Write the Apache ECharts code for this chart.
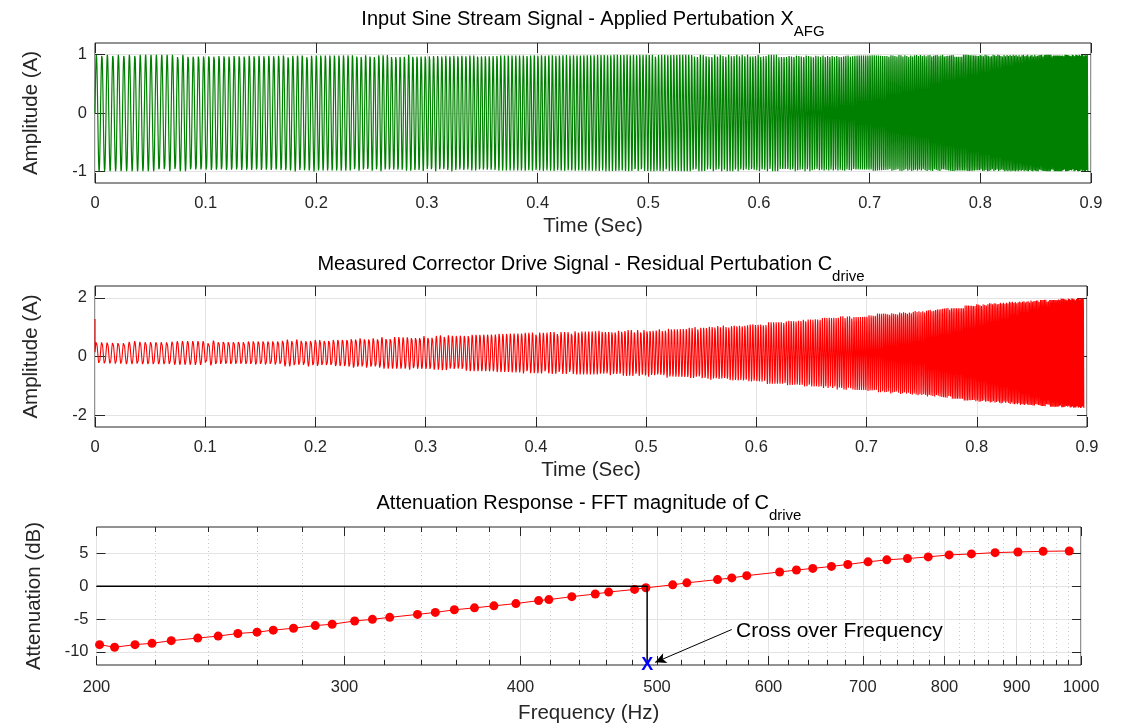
<!DOCTYPE html>
<html>
<head>
<meta charset="utf-8">
<title>Sine stream attenuation</title>
<script src="https://cdn.jsdelivr.net/npm/echarts@6/dist/echarts.min.js"></script>
<style>
  html, body { margin: 0; padding: 0; background: #ffffff; }
  #chart { width: 1127px; height: 727px; }
</style>
</head>
<body>
<div id="chart"></div>
<script>
// ---- Data -----------------------------------------------------------------
// Sine-stream step frequencies (Hz), one per measured point
const streamFreqHz = [201, 206, 213, 219, 226, 236, 244, 252, 260, 267,
  276, 286, 294, 305, 314, 323, 338, 348, 359, 371,
  383, 397, 412, 419, 435, 452, 462, 482, 491, 513,
  525, 552, 565, 579, 611, 628, 645, 665, 683, 706,
  728, 753, 779, 806, 836, 869, 902, 940, 981];

// FFT magnitude of the corrector drive at each step (dB)
const attenuationDb = [-8.9, -9.3, -8.9, -8.7, -8.3, -7.9, -7.6, -7.2, -7.0, -6.7,
  -6.4, -6.0, -5.8, -5.3, -5.05, -4.75, -4.3, -4.0, -3.6, -3.3,
  -3.0, -2.65, -2.2, -2.05, -1.6, -1.2, -0.9, -0.5, -0.25, 0.2,
  0.5, 1.0, 1.25, 1.6, 2.15, 2.45, 2.7, 3.0, 3.3, 3.7,
  4.0, 4.2, 4.45, 4.75, 4.9, 5.1, 5.2, 5.3, 5.35];

// Peak amplitude of the measured drive during each step (A)
const driveAmpA = [0.38, 0.40, 0.41, 0.43, 0.44, 0.46, 0.48, 0.52, 0.55, 0.58,
  0.61, 0.64, 0.67, 0.70, 0.72, 0.74, 0.76, 0.78, 0.81, 0.85,
  0.88, 0.93, 0.97, 1.00, 1.06, 1.10, 1.15, 1.20, 1.25, 1.30,
  1.34, 1.38, 1.42, 1.46, 1.50, 1.54, 1.58, 1.63, 1.67, 1.70,
  1.72, 1.75, 1.77, 1.79, 1.81, 1.83, 1.85, 1.86, 1.87];

const driveOffsetA = 0.12;   // DC level of the drive signal (A)
const driveStartA = 1.28;    // first drive sample (start-up transient, A)
const inputAmpA = 1;         // applied perturbation amplitude (A)
const streamEndSec = 0.897;  // length of the recorded stream (s)
const sampleRateHz = 20000;

const crossoverHz = 492;     // frequency where attenuation crosses 0 dB
const crossoverDb = 0;
const attenFloorDb = -12;

// Tick values and labels
const timeTicks = [0, 0.1, 0.2, 0.3, 0.4, 0.5, 0.6, 0.7, 0.8, 0.9];
const inputTicks = [-1, 0, 1];
const driveTicks = [-2, 0, 2];
const attenTicks = [-10, -5, 0, 5];
const freqTicks = [200, 300, 400, 500, 600, 700, 800, 900, 1000];
const freqMinorTicks = [];
for (let f = 220; f < 1000; f += 20) { if (f % 100 !== 0) freqMinorTicks.push(f); }

// Callout placement (data coordinates of the bottom panel)
const calloutText = 'Cross over Frequency';
const calloutAt = [569, -6.9];
const arrowFrom = [565, -6.6];
const arrowTo = [498.5, -11.6];

// ---- Time-domain sine stream ------------------------------------------------
// Every step runs the same number of periods; phase is kept continuous.
const periodsPerStep = streamEndSec / streamFreqHz.reduce((s, f) => s + 1 / f, 0);
const inputWave = [];
const driveWave = [[0, driveStartA]];
let stepStart = 0;
let phase = 0;
streamFreqHz.forEach((f, i) => {
  const n = Math.round(periodsPerStep / f * sampleRateHz);
  for (let k = 0; k < n; k++) {
    const t = stepStart + k / sampleRateHz;
    const s = Math.sin(phase + 2 * Math.PI * f * k / sampleRateHz);
    inputWave.push([t, inputAmpA * s]);
    if (i > 0 || k > 0) driveWave.push([t, driveOffsetA + driveAmpA[i] * s]);
  }
  phase += 2 * Math.PI * f * n / sampleRateHz;
  stepStart += n / sampleRateHz;
});

const attenPoints = streamFreqHz.map((f, i) => [f, attenuationDb[i]]);
const crossoverPath = [[freqTicks[0], crossoverDb], [crossoverHz, crossoverDb], [crossoverHz, attenFloorDb]];

// ---- Styling ----------------------------------------------------------------
const FONT = '"Liberation Sans", Arial, Helvetica, sans-serif';
const INK = '#262626';
const GRID_LINE = '#e3e3e3';
const TICK_FS = 16.5;
const NAME_FS = 20.5;
const TITLE_FS = 20;
const SUB_FS = 15;
const TICK_LEN = 10;

const timeFmt = v => String(Math.round(v * 10) / 10);

function labelAxis(o) {
  return Object.assign({
    axisLine: { show: false, onZero: false },
    axisTick: { show: true, inside: true, length: TICK_LEN, lineStyle: { color: INK, width: 1 } },
    axisLabel: { show: true, color: INK, fontSize: TICK_FS, fontFamily: FONT },
    splitLine: { show: true, lineStyle: { color: GRID_LINE, width: 1 } },
    nameLocation: 'middle',
    nameTextStyle: { color: INK, fontSize: NAME_FS, fontFamily: FONT }
  }, o);
}
function tickOnlyAxis(o) {
  return Object.assign({
    axisLine: { show: false, onZero: false },
    axisTick: { show: true, inside: true, length: TICK_LEN, lineStyle: { color: INK, width: 1 } },
    axisLabel: { show: false },
    splitLine: { show: false }
  }, o);
}

const gridBox = { show: true, borderColor: INK, borderWidth: 1, backgroundColor: 'transparent', containLabel: false, outerBoundsMode: 'none' };

function titleText(x, y, main, sub) {
  return {
    type: 'text', x: x, y: y, silent: true,
    style: {
      text: '{m|' + main + '}{s|' + sub + '}',
      align: 'center', verticalAlign: 'middle', fill: '#000',
      rich: {
        m: { fontSize: TITLE_FS, fontFamily: FONT, fill: '#000' },
        s: { fontSize: SUB_FS, fontFamily: FONT, fill: '#000', padding: [25, 0, 0, 0] }
      }
    }
  };
}

const option = {
  animation: false,
  backgroundColor: '#ffffff',
  textStyle: { fontFamily: FONT },
  grid: [
    Object.assign({ left: 95, top: 43, width: 996, height: 140 }, gridBox),
    Object.assign({ left: 95, top: 286, width: 992, height: 141 }, gridBox),
    Object.assign({ left: 96.5, top: 527, width: 984.5, height: 138 }, gridBox)
  ],
  xAxis: [
    // panel 1
    labelAxis({ gridIndex: 0, type: 'value', position: 'bottom', min: 0, max: 0.9, interval: 0.1,
      name: 'Time (Sec)', nameGap: 33,
      axisLabel: { color: INK, fontSize: TICK_FS, fontFamily: FONT, margin: 12, formatter: timeFmt } }),
    tickOnlyAxis({ gridIndex: 0, type: 'value', position: 'top', min: 0, max: 0.9, interval: 0.1 }),
    // panel 2
    labelAxis({ gridIndex: 1, type: 'value', position: 'bottom', min: 0, max: 0.9, interval: 0.1,
      name: 'Time (Sec)', nameGap: 33,
      axisLabel: { color: INK, fontSize: TICK_FS, fontFamily: FONT, margin: 12, formatter: timeFmt } }),
    tickOnlyAxis({ gridIndex: 1, type: 'value', position: 'top', min: 0, max: 0.9, interval: 0.1 }),
    // panel 3: log frequency axis, major ticks + labels
    labelAxis({ gridIndex: 2, type: 'log', logBase: 10, position: 'bottom', min: 200, max: 1000,
      name: 'Frequency (Hz)', nameGap: 38,
      axisTick: { show: true, inside: true, length: 9, customValues: freqTicks, lineStyle: { color: INK } },
      axisLabel: { color: INK, fontSize: TICK_FS, fontFamily: FONT, margin: 14, customValues: freqTicks,
        formatter: v => String(Math.round(v)) } }),
    // minor ticks with dotted grid
    tickOnlyAxis({ gridIndex: 2, type: 'log', logBase: 10, position: 'bottom', min: 200, max: 1000,
      axisTick: { show: true, inside: true, length: 5, customValues: freqMinorTicks, lineStyle: { color: INK } },
      splitLine: { show: true, lineStyle: { color: '#c8c8c8', type: [1, 3], width: 1 } } }),
    tickOnlyAxis({ gridIndex: 2, type: 'log', logBase: 10, position: 'top', min: 200, max: 1000,
      axisTick: { show: true, inside: true, length: 9, customValues: freqTicks, lineStyle: { color: INK } } }),
    tickOnlyAxis({ gridIndex: 2, type: 'log', logBase: 10, position: 'top', min: 200, max: 1000,
      axisTick: { show: true, inside: true, length: 5, customValues: freqMinorTicks, lineStyle: { color: INK } } })
  ],
  yAxis: [
    labelAxis({ gridIndex: 0, type: 'value', position: 'left', min: -1.2, max: 1.2,
      name: 'Amplitude (A)', nameGap: 53,
      axisTick: { show: true, inside: true, length: TICK_LEN, customValues: inputTicks, lineStyle: { color: INK } },
      axisLabel: { color: INK, fontSize: TICK_FS, fontFamily: FONT, margin: 8, customValues: inputTicks } }),
    tickOnlyAxis({ gridIndex: 0, type: 'value', position: 'right', min: -1.2, max: 1.2,
      axisTick: { show: true, inside: true, length: TICK_LEN, customValues: inputTicks, lineStyle: { color: INK } } }),
    labelAxis({ gridIndex: 1, type: 'value', position: 'left', min: -2.4, max: 2.4,
      name: 'Amplitude (A)', nameGap: 53,
      axisTick: { show: true, inside: true, length: TICK_LEN, customValues: driveTicks, lineStyle: { color: INK } },
      axisLabel: { color: INK, fontSize: TICK_FS, fontFamily: FONT, margin: 8, customValues: driveTicks } }),
    tickOnlyAxis({ gridIndex: 1, type: 'value', position: 'right', min: -2.4, max: 2.4,
      axisTick: { show: true, inside: true, length: TICK_LEN, customValues: driveTicks, lineStyle: { color: INK } } }),
    labelAxis({ gridIndex: 2, type: 'value', position: 'left', min: attenFloorDb, max: 9,
      name: 'Attenuation (dB)', nameGap: 52,
      axisTick: { show: true, inside: true, length: 9, customValues: attenTicks, lineStyle: { color: INK } },
      axisLabel: { color: INK, fontSize: TICK_FS, fontFamily: FONT, margin: 8, customValues: attenTicks } }),
    tickOnlyAxis({ gridIndex: 2, type: 'value', position: 'right', min: attenFloorDb, max: 9,
      axisTick: { show: true, inside: true, length: 9, customValues: attenTicks, lineStyle: { color: INK } } })
  ],
  series: [
    {
      name: 'Applied perturbation', type: 'line', xAxisIndex: 0, yAxisIndex: 0,
      data: inputWave, symbol: 'none', showSymbol: false, silent: true,
      lineStyle: { color: '#008000', width: 1.2 }
    },
    {
      name: 'Corrector drive', type: 'line', xAxisIndex: 2, yAxisIndex: 2,
      data: driveWave, symbol: 'none', showSymbol: false, silent: true,
      lineStyle: { color: '#ff0000', width: 1.1 }
    },
    {
      name: 'Attenuation', type: 'line', xAxisIndex: 4, yAxisIndex: 4,
      data: attenPoints, symbol: 'circle', symbolSize: 9, silent: true,
      lineStyle: { color: '#ff0000', width: 1 },
      itemStyle: { color: '#ff0000', borderWidth: 0 }, z: 3
    },
    {
      name: 'Crossover', type: 'line', xAxisIndex: 4, yAxisIndex: 4,
      data: crossoverPath, symbol: 'none', silent: true,
      lineStyle: { color: '#000000', width: 1.5 }, z: 4
    },
    {
      name: 'Crossover mark', type: 'scatter', xAxisIndex: 4, yAxisIndex: 4,
      data: [[crossoverHz, attenFloorDb]], symbolSize: 0, silent: true, clip: false, z: 6,
      itemStyle: { opacity: 1 },
      label: { show: true, position: 'inside', formatter: 'X', color: '#0000ff', opacity: 1,
        fontSize: 18, fontWeight: 'bold', fontFamily: FONT }
    },
    {
      name: 'Callout', type: 'scatter', xAxisIndex: 4, yAxisIndex: 4,
      data: [calloutAt], symbolSize: 0, silent: true, clip: false, z: 5,
      itemStyle: { opacity: 1 },
      label: { show: true, position: 'right', distance: 0, formatter: calloutText,
        color: '#000000', opacity: 1, fontSize: 21, fontFamily: FONT },
      markLine: {
        silent: true, animation: false,
        symbol: ['none', 'arrow'], symbolSize: [8, 11],
        lineStyle: { color: '#000000', width: 1, type: 'solid', opacity: 1 },
        label: { show: false },
        data: [[{ coord: arrowFrom }, { coord: arrowTo }]]
      }
    }
  ],
  graphic: [
    titleText(593, 19, 'Input Sine Stream Signal - Applied Pertubation X', 'AFG'),
    titleText(591, 264, 'Measured Corrector Drive Signal - Residual Pertubation C', 'drive'),
    titleText(589, 503, 'Attenuation Response - FFT magnitude of C', 'drive')
  ]
};

const chart = echarts.init(document.getElementById('chart'), null, { renderer: 'canvas', width: 1127, height: 727 });
chart.setOption(option);
</script>
</body>
</html>
